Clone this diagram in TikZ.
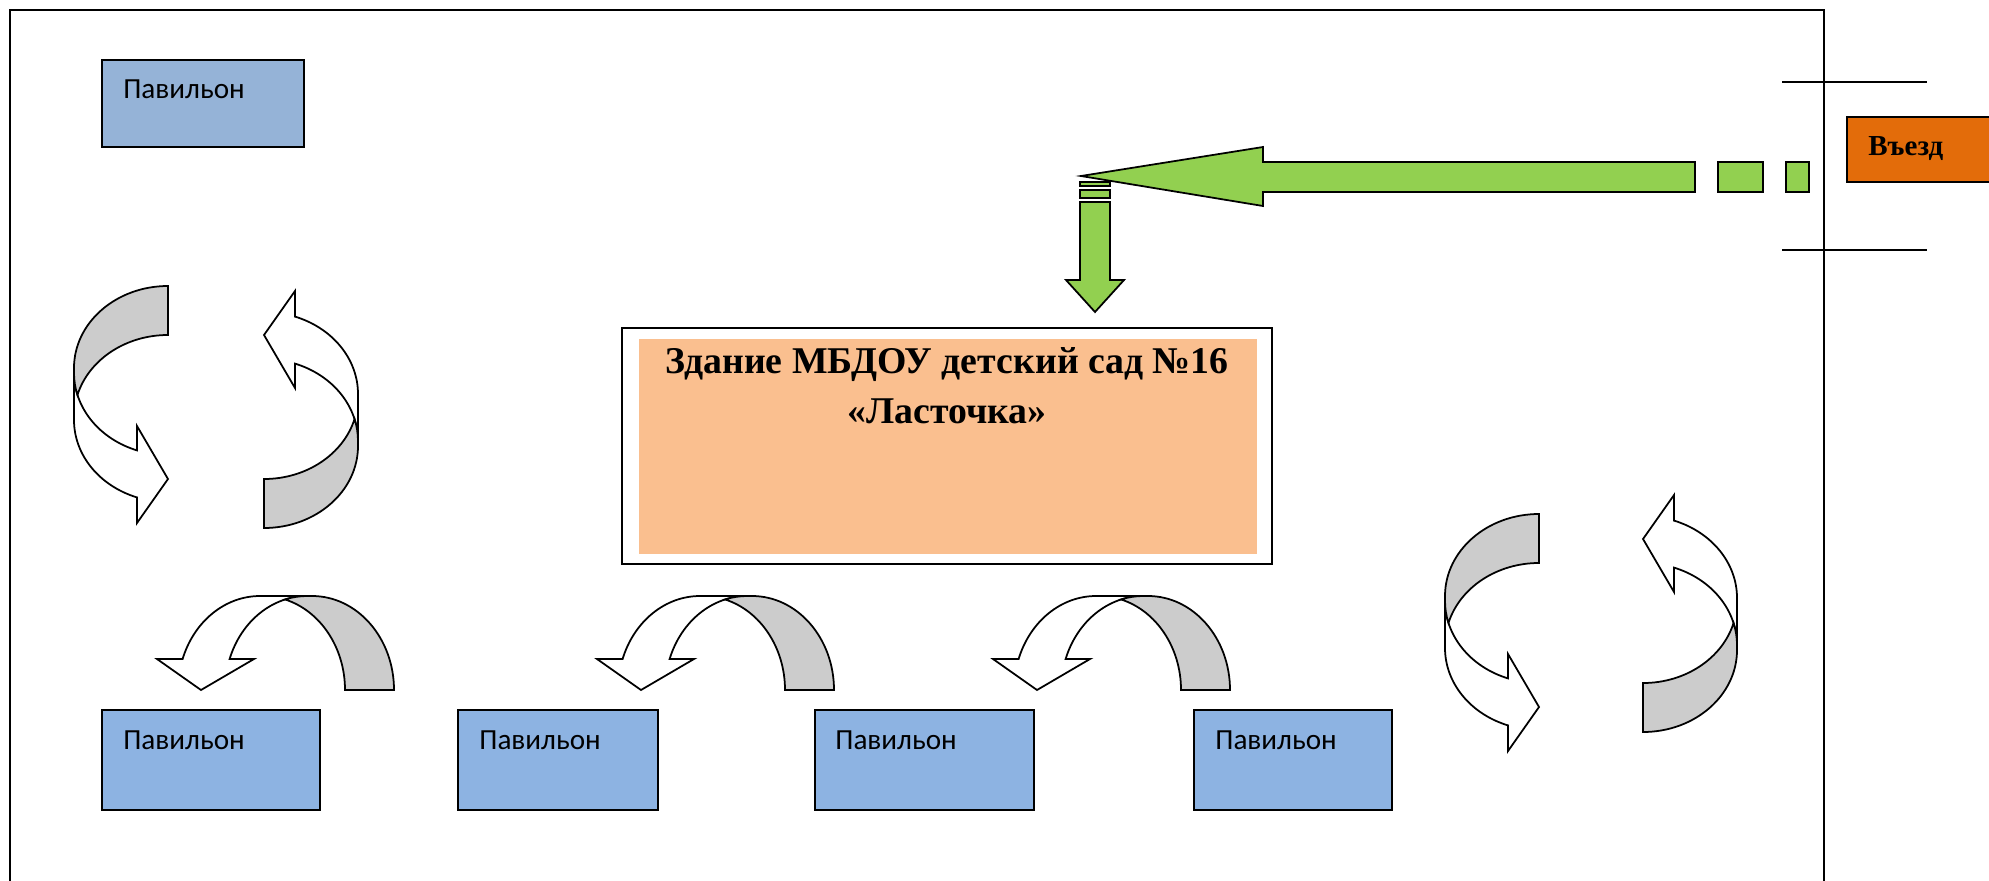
\documentclass[tikz,border=0pt]{standalone}
\usepackage{fontspec}
\setmainfont{Carlito}
\newfontfamily\titlefont{Liberation Serif}
\definecolor{pavtop}{HTML}{95B3D7}
\definecolor{pavlow}{HTML}{8DB3E2}
\definecolor{roadgreen}{HTML}{92D050}
\definecolor{entryorange}{HTML}{E36C0A}
\definecolor{housepeach}{HTML}{FABF8F}
\definecolor{turngray}{HTML}{CCCCCC}
\tikzset{
	outline/.style={draw=black, line width=1pt, line join=miter},
	pavlabel/.style={anchor=base west, inner sep=0pt, font=\fontsize{16.6}{20}\selectfont},
	% Umlaufpfeil: grauer Anfang oben, weisser Bogen mit Spitze unten
	turn/.pic={
		\draw [outline, fill=white] (-94,-82) -- (-94,-134)
			arc [start angle=180, end angle=250.7, x radius=94, y radius=82]
			-- (-31,-237) -- (0,-193) -- (-31,-140) -- (-31,-164.4)
			arc [start angle=250.7, end angle=180, x radius=94, y radius=82] -- cycle;
		\draw [outline, fill=turngray] (0,0)
			arc [start angle=90, end angle=180, x radius=94, y radius=82]
			-- (-94,-87)
			arc [start angle=180, end angle=195.56, x radius=94, y radius=82]
			arc [start angle=164.44, end angle=90, x radius=94, y radius=82] -- cycle;
	}
}
\begin{document}
\begin{tikzpicture}[x=0.2mm, y=0.2mm]
	\clip (0,0) rectangle (1989,-880);
	% Rahmen und Einfahrt
	\draw [line width=1.1pt] (10,-890) -- (10,-10) -- (1824,-10) -- (1824,-890);
	\draw [line width=1.1pt] (1782,-82) -- (1927,-82);
	\draw [line width=1.1pt] (1782,-250) -- (1927,-250);
	\draw [outline, fill=entryorange] (1847,-117) rectangle (2000,-182);
	\node (entry) [anchor=base west, inner sep=0pt, font=\titlefont\bfseries\fontsize{16.5}{20}\selectfont] at (1868,-155) {Въезд};
	% Gruener Weg
	\draw [outline, fill=roadgreen] (1695,-162) -- (1263,-162) -- (1263,-147) -- (1081,-176) -- (1263,-206) -- (1263,-192) -- (1695,-192) -- cycle;
	\draw [outline, fill=roadgreen] (1718,-162) rectangle (1763,-192);
	\draw [outline, fill=roadgreen] (1786,-162) rectangle (1809,-192);
	\draw [outline, fill=roadgreen] (1080,-182) rectangle (1110,-186);
	\draw [outline, fill=roadgreen] (1080,-190) rectangle (1110,-198);
	\draw [outline, fill=roadgreen] (1080,-202) -- (1080,-280) -- (1066,-280) -- (1095,-312) -- (1124,-280) -- (1110,-280) -- (1110,-202) -- cycle;
	% Gebaeude
	\draw [outline, fill=white] (622,-328) rectangle (1272,-564);
	\fill [housepeach] (639,-339) rectangle (1257,-554);
	\node (house) [anchor=north, align=center, inner sep=0pt, font=\titlefont\bfseries\fontsize{21.5}{28.3}\selectfont] at (947,-347) {Здание МБДОУ детский сад №16\\«Ласточка»};
	% Pavillons
	\draw [outline, fill=pavtop] (102,-60) rectangle (304,-147);
	\node (pavtopleft) [pavlabel] at (123,-98) {Павильон};
	\draw [outline, fill=pavlow] (102,-710) rectangle (320,-810);
	\node (pavone) [pavlabel] at (123,-749) {Павильон};
	\draw [outline, fill=pavlow] (458,-710) rectangle (658,-810);
	\node (pavtwo) [pavlabel] at (479,-749) {Павильон};
	\draw [outline, fill=pavlow] (815,-710) rectangle (1034,-810);
	\node (pavthree) [pavlabel] at (835,-749) {Павильон};
	\draw [outline, fill=pavlow] (1194,-710) rectangle (1392,-810);
	\node (pavfour) [pavlabel] at (1215,-749) {Павильон};
	% Umlaufpfeile
	\pic at (168,-286) {turn};
	\pic [rotate=180] at (264,-528) {turn};
	\pic at (1539,-514) {turn};
	\pic [rotate=180] at (1643,-732) {turn};
	\pic [rotate=-90] at (394,-690) {turn};
	\pic [rotate=-90] at (834,-690) {turn};
	\pic [rotate=-90] at (1230,-690) {turn};
\end{tikzpicture}
\end{document}
